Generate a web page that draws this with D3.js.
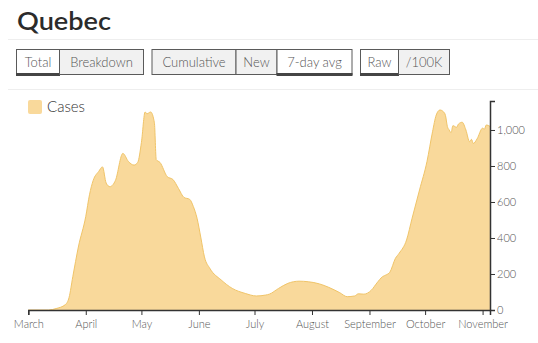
<!DOCTYPE html>
<html>
<head>
<meta charset="utf-8">
<script src="https://cdn.jsdelivr.net/npm/d3@7"></script>
<style>
  html, body { margin: 0; padding: 0; background: #fff; }
  svg { display: block; font-family: Lato, "Open Sans", sans-serif; }
</style>
</head>
<body>
<svg id="chart" width="538" height="343"></svg>
<script>
// ---- data ----
const dates = ["2020-03-01","2020-03-12","2020-03-16","2020-03-21","2020-03-23","2020-03-25","2020-03-28",
  "2020-04-01","2020-04-03","2020-04-05","2020-04-08","2020-04-10","2020-04-12","2020-04-14","2020-04-17",
  "2020-04-21","2020-04-24","2020-04-27","2020-04-29","2020-05-01","2020-05-03","2020-05-04","2020-05-06",
  "2020-05-08","2020-05-09","2020-05-11","2020-05-15","2020-05-18","2020-05-21","2020-05-24","2020-05-27",
  "2020-05-29","2020-05-31","2020-06-02","2020-06-04","2020-06-07","2020-06-13","2020-06-19","2020-06-26",
  "2020-07-02","2020-07-07","2020-07-09","2020-07-14","2020-07-19","2020-07-25","2020-07-30","2020-08-05",
  "2020-08-10","2020-08-16","2020-08-20","2020-08-24","2020-08-26","2020-08-29","2020-09-02","2020-09-05",
  "2020-09-08","2020-09-10","2020-09-12","2020-09-15","2020-09-17","2020-09-21","2020-09-24","2020-09-28",
  "2020-10-02","2020-10-05","2020-10-07","2020-10-09","2020-10-11","2020-10-12","2020-10-13","2020-10-14",
  "2020-10-15","2020-10-16","2020-10-18","2020-10-19","2020-10-21","2020-10-23","2020-10-25","2020-10-26",
  "2020-10-27","2020-10-29","2020-11-01","2020-11-02","2020-11-03","2020-11-05"];
const cases = [0,0,8,30,70,185,350,
  520,640,720,770,795,705,685,720,
  870,825,805,820,930,1100,1090,1100,
  1040,835,820,740,725,675,625,615,
  575,510,405,295,230,167,120,92,
  78,83,88,120,148,160,157,145,
  126,96,74,78,90,88,110,150,
  185,195,210,287,315,389,510,667,
  824,990,1083,1111,1100,1080,1020,1000,
  985,1024,1015,1033,1043,1000,935,948,
  925,950,1010,1005,1028,1020];
const yTicks = [0,200,400,600,800,1000];
const monthTicks = ["2020-03-01","2020-04-01","2020-05-01","2020-06-01","2020-07-01","2020-08-01","2020-09-01","2020-10-01","2020-11-01"];
const buttonGroups = [
  [{label:"Total", sel:true}, {label:"Breakdown", sel:false}],
  [{label:"Cumulative", sel:false}, {label:"New", sel:false}, {label:"7-day avg", sel:true}],
  [{label:"Raw", sel:true}, {label:"/100K", sel:false}]
];
const title = "Quebec";
const seriesName = "Cases";

// ---- drawing ----
const svg = d3.select("#chart");
const parse = d3.timeParse("%Y-%m-%d");
const data = dates.map((d, i) => ({ date: parse(d), value: cases[i] }));

// title
svg.append("text").attr("x", 17).attr("y", 30)
  .attr("font-size", 24).attr("font-weight", 600).attr("fill", "#2b2b2b")
  .attr("textLength", 94).attr("lengthAdjust", "spacingAndGlyphs")
  .text(title);

// separators
svg.append("line").attr("x1", 8).attr("x2", 538).attr("y1", 39.5).attr("y2", 39.5).attr("stroke", "#eeeeee");
svg.append("line").attr("x1", 8).attr("x2", 538).attr("y1", 89.5).attr("y2", 89.5).attr("stroke", "#eeeeee");

// buttons
const btnWidths = [[43, 84], [84, 41, 75], [38, 51]];
const groupX = [16, 151.5, 360];
buttonGroups.forEach((grp, gi) => {
  let x = groupX[gi];
  grp.forEach((b, bi) => {
    const w = btnWidths[gi][bi];
    const g = svg.append("g");
    g.append("rect").attr("x", x + 0.5).attr("y", 49.5).attr("width", w).attr("height", 25)
      .attr("fill", b.sel ? "#ffffff" : "#f1f1f1").attr("stroke", "#5a5a5a").attr("stroke-width", 1);
    if (b.sel) {
      g.append("rect").attr("x", x).attr("y", 73).attr("width", w + 1).attr("height", 3).attr("fill", "#454545");
    }
    g.append("text").attr("x", x + 0.5 + w / 2).attr("y", 67)
      .attr("text-anchor", "middle").attr("font-size", 13).attr("font-weight", 300).attr("fill", "#555")
      .text(b.label);
    x += w;
  });
});

// scales
const x = d3.scaleTime()
  .domain([parse("2020-03-01"), parse("2020-11-05")])
  .range([28.3, 490]);
const y = d3.scaleLinear().domain([0, 1161]).range([310, 101]);

// area
const area = d3.area()
  .x(d => x(d.date)).y0(y(0)).y1(d => y(d.value))
  .curve(d3.curveMonotoneX);
const line = d3.line()
  .x(d => x(d.date)).y(d => y(d.value))
  .curve(d3.curveMonotoneX);
svg.append("path").datum(data).attr("d", area).attr("fill", "#f9d99b");
svg.append("path").datum(data).attr("d", line).attr("fill", "none")
  .attr("stroke", "#f0c468").attr("stroke-width", 1);

// x axis
const xAxis = d3.axisBottom(x)
  .tickValues(monthTicks.map(parse))
  .tickFormat(d3.timeFormat("%B"))
  .tickSizeInner(5).tickSizeOuter(5);
const gx = svg.append("g").attr("transform", "translate(0,310)").call(xAxis);
gx.select(".domain").attr("stroke", "#333").attr("stroke-width", 1.5);
gx.selectAll(".tick line").attr("stroke", "#333");
gx.selectAll(".tick text").attr("font-family", "Lato, sans-serif").attr("font-size", 11)
  .attr("font-weight", 300).attr("fill", "#555").attr("dy", "0.95em");

// y axis
const yAxis = d3.axisRight(y).tickValues(yTicks).tickFormat(d3.format(","))
  .tickSizeInner(5).tickSizeOuter(5);
const gy = svg.append("g").attr("transform", "translate(490,0)").call(yAxis);
gy.select(".domain").attr("stroke", "#333").attr("stroke-width", 1.5);
gy.selectAll(".tick line").attr("stroke", "#333");
gy.selectAll(".tick text").attr("font-family", "Lato, sans-serif").attr("font-size", 11)
  .attr("font-weight", 300).attr("fill", "#555").attr("x", 7);

// legend
svg.append("rect").attr("x", 28).attr("y", 100).attr("width", 14).attr("height", 14)
  .attr("rx", 2).attr("fill", "#f9d99b");
svg.append("text").attr("x", 47).attr("y", 112).attr("font-size", 15).attr("font-weight", 300)
  .attr("fill", "#333").text(seriesName);
</script>
</body>
</html>
